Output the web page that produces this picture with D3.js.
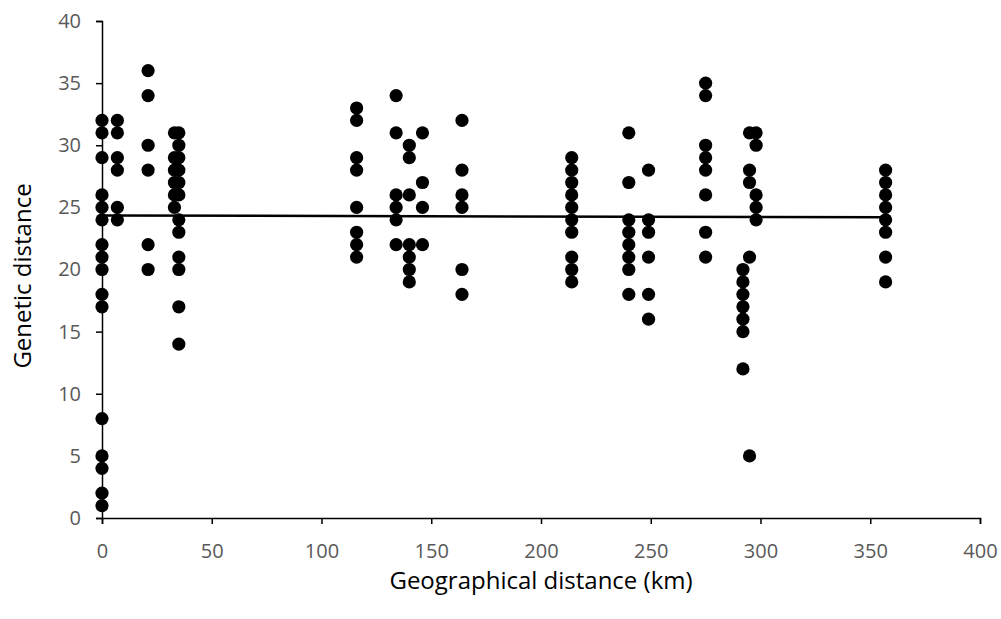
<!DOCTYPE html>
<html>
<head>
<meta charset="utf-8">
<script src="https://cdn.jsdelivr.net/npm/d3@7"></script>
<style>
  body { margin: 0; background: #fff; }
  text { font-family: "Open Sans", sans-serif; }
</style>
</head>
<body>
<svg id="chart" width="1001" height="619"></svg>
<script>
// geographical distance (km) of each column of points
var geoKm = [0, 7, 21, 33, 35, 116, 134, 140, 146, 164, 214, 240, 249, 275, 292, 295, 298, 357];
// genetic distance values per column
var genDist = [
  [32, 31, 29, 26, 25, 24, 22, 21, 20, 18, 17, 8, 5, 4, 2, 1],
  [32, 31, 29, 28, 25, 24],
  [36, 34, 30, 28, 22, 20],
  [31, 29, 28, 27, 26, 25],
  [31, 30, 29, 28, 27, 26, 24, 23, 21, 20, 17, 14],
  [33, 32, 29, 28, 25, 23, 22, 21],
  [34, 31, 26, 25, 24, 22],
  [30, 29, 26, 22, 21, 20, 19],
  [31, 27, 25, 22],
  [32, 28, 26, 25, 20, 18],
  [29, 28, 27, 26, 25, 24, 23, 21, 20, 19],
  [31, 27, 24, 23, 22, 21, 20, 18],
  [28, 24, 23, 21, 18, 16],
  [35, 34, 30, 29, 28, 26, 23, 21],
  [20, 19, 18, 17, 16, 15, 12],
  [31, 28, 27, 21, 5],
  [31, 30, 26, 25, 24],
  [28, 27, 26, 25, 24, 23, 21, 19]
];
// linear trend as drawn in the chart (value at start and end of the data range)
var trendKm = [0, 357];
var trendVal = [24.35, 24.2];
var xTicks = [0, 50, 100, 150, 200, 250, 300, 350, 400];
var yTicks = [0, 5, 10, 15, 20, 25, 30, 35, 40];

var points = [];
geoKm.forEach(function(k, i) {
  genDist[i].forEach(function(v) { points.push({x: k, y: v}); });
});

var m = {top: 21, right: 21, bottom: 101, left: 102};
var W = 1001, H = 619;
var svg = d3.select("#chart");
var g = svg.append("g").attr("transform", "translate(" + m.left + "," + m.top + ")");
var w = W - m.left - m.right, h = H - m.top - m.bottom;

var x = d3.scaleLinear().domain([0, 400]).range([0, w]);
var y = d3.scaleLinear().domain([0, 40]).range([h, 0]);

var xa = g.append("g").attr("transform", "translate(0," + h + ")")
  .call(d3.axisBottom(x).tickValues(xTicks).tickSizeOuter(0).tickSize(6).tickPadding(20));
var ya = g.append("g")
  .call(d3.axisLeft(y).tickValues(yTicks).tickSizeOuter(0).tickSize(6).tickPadding(15));
[xa, ya].forEach(function(a) {
  a.select(".domain").attr("stroke", "#000").attr("stroke-width", 1.5);
  a.selectAll(".tick line").attr("stroke", "#000").attr("stroke-width", 1.5);
  a.selectAll(".tick text").attr("fill", "#595959").style("font-size", "20px");
});

g.selectAll("circle").data(points).enter().append("circle")
  .attr("cx", function(d) { return x(d.x); })
  .attr("cy", function(d) { return y(d.y); })
  .attr("r", 6.6)
  .attr("fill", "#000");

g.append("line")
  .attr("x1", x(trendKm[0])).attr("x2", x(trendKm[1]))
  .attr("y1", y(trendVal[0])).attr("y2", y(trendVal[1]))
  .attr("stroke", "#000").attr("stroke-width", 2.5);

svg.append("text").attr("x", m.left + w / 2).attr("y", 589)
  .attr("text-anchor", "middle").style("font-size", "24px").attr("fill", "#000")
  .text("Geographical distance (km)");
svg.append("text").attr("transform", "translate(31," + 276 + ") rotate(-90)")
  .attr("text-anchor", "middle").style("font-size", "24px").attr("fill", "#000")
  .text("Genetic distance");
</script>
</body>
</html>
